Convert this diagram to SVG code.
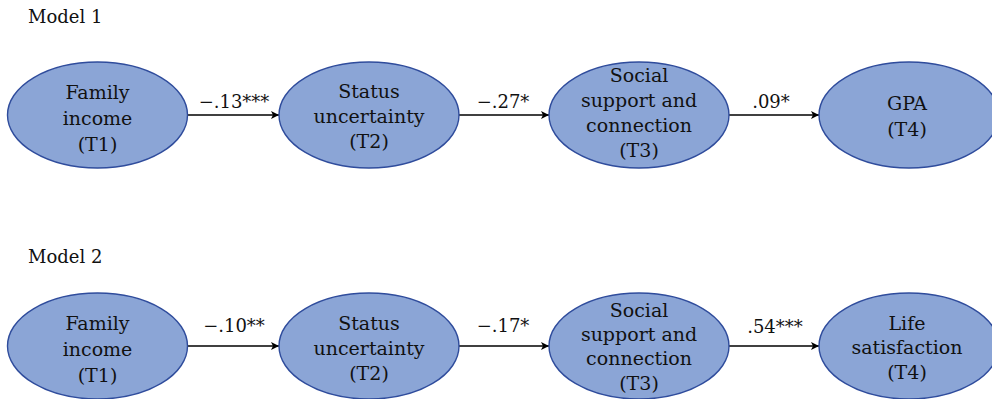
<svg xmlns="http://www.w3.org/2000/svg" width="992" height="399" viewBox="0 0 992 399">
<style>
.n{fill:#8ba5d6;stroke:#2f4c9c;stroke-width:1.4}
text{font-family:"DejaVu Serif","Liberation Serif",serif;font-size:18px;fill:#111}
.c{text-anchor:middle}
.t{font-size:19px}
.e{stroke:#000;stroke-width:1.3;fill:none;marker-end:url(#a)}
</style>
<defs>
<marker id="a" viewBox="0 0 10 10" refX="10" refY="5" markerWidth="8" markerHeight="8" markerUnits="userSpaceOnUse" orient="auto">
<path d="M0,0 L10,5 L0,10 L2.5,5 Z" fill="#000"/>
</marker>
</defs>
<rect width="992" height="399" fill="#fff"/>
<text x="28" y="23">Model 1</text>
<text x="28" y="263">Model 2</text>
<g id="connectors">
<line class="e" x1="188" y1="115" x2="279" y2="115"/>
<line class="e" x1="459" y1="115" x2="549" y2="115"/>
<line class="e" x1="729" y1="115" x2="819" y2="115"/>
<line class="e" x1="188" y1="346" x2="279" y2="346"/>
<line class="e" x1="459" y1="346" x2="549" y2="346"/>
<line class="e" x1="729" y1="346" x2="819" y2="346"/>
<text class="c" x="234" y="108">−.13***</text>
<text class="c" x="503" y="108">−.27*</text>
<text class="c" x="771" y="108">.09*</text>
<text class="c" x="234" y="332">−.10**</text>
<text class="c" x="503" y="332">−.17*</text>
<text class="c" x="775" y="333">.54***</text>
</g>
<g id="m1-income" class="t"><ellipse class="n" cx="97.5" cy="115" rx="90" ry="53"/>
<text class="c t" x="97.5" y="99">Family</text><text class="c t" x="97.5" y="125">income</text><text class="c t" x="97.5" y="151">(T1)</text></g>
<g id="m1-status"><ellipse class="n" cx="369" cy="115" rx="90" ry="53"/>
<text class="c t" x="369" y="98">Status</text><text class="c t" x="369" y="123">uncertainty</text><text class="c t" x="369" y="148">(T2)</text></g>
<g id="m1-social"><ellipse class="n" cx="639" cy="115" rx="90" ry="53"/>
<text class="c t" x="639" y="82">Social</text><text class="c t" x="639" y="107">support and</text><text class="c t" x="639" y="132">connection</text><text class="c t" x="639" y="157">(T3)</text></g>
<g id="m1-gpa"><ellipse class="n" cx="909" cy="115" rx="90" ry="53"/>
<text class="c t" x="907" y="110">GPA</text><text class="c t" x="907" y="136">(T4)</text></g>
<g id="m2-income"><ellipse class="n" cx="97.5" cy="346" rx="90" ry="53"/>
<text class="c t" x="97.5" y="330">Family</text><text class="c t" x="97.5" y="356">income</text><text class="c t" x="97.5" y="382">(T1)</text></g>
<g id="m2-status"><ellipse class="n" cx="369" cy="346" rx="90" ry="53"/>
<text class="c t" x="369" y="330">Status</text><text class="c t" x="369" y="355">uncertainty</text><text class="c t" x="369" y="380">(T2)</text></g>
<g id="m2-social"><ellipse class="n" cx="639" cy="346" rx="90" ry="53"/>
<text class="c t" x="639" y="317">Social</text><text class="c t" x="639" y="341">support and</text><text class="c t" x="639" y="365">connection</text><text class="c t" x="639" y="390">(T3)</text></g>
<g id="m2-life"><ellipse class="n" cx="909" cy="346" rx="90" ry="53"/>
<text class="c t" x="907" y="330">Life</text><text class="c t" x="907" y="354">satisfaction</text><text class="c t" x="907" y="379">(T4)</text></g>
</svg>
